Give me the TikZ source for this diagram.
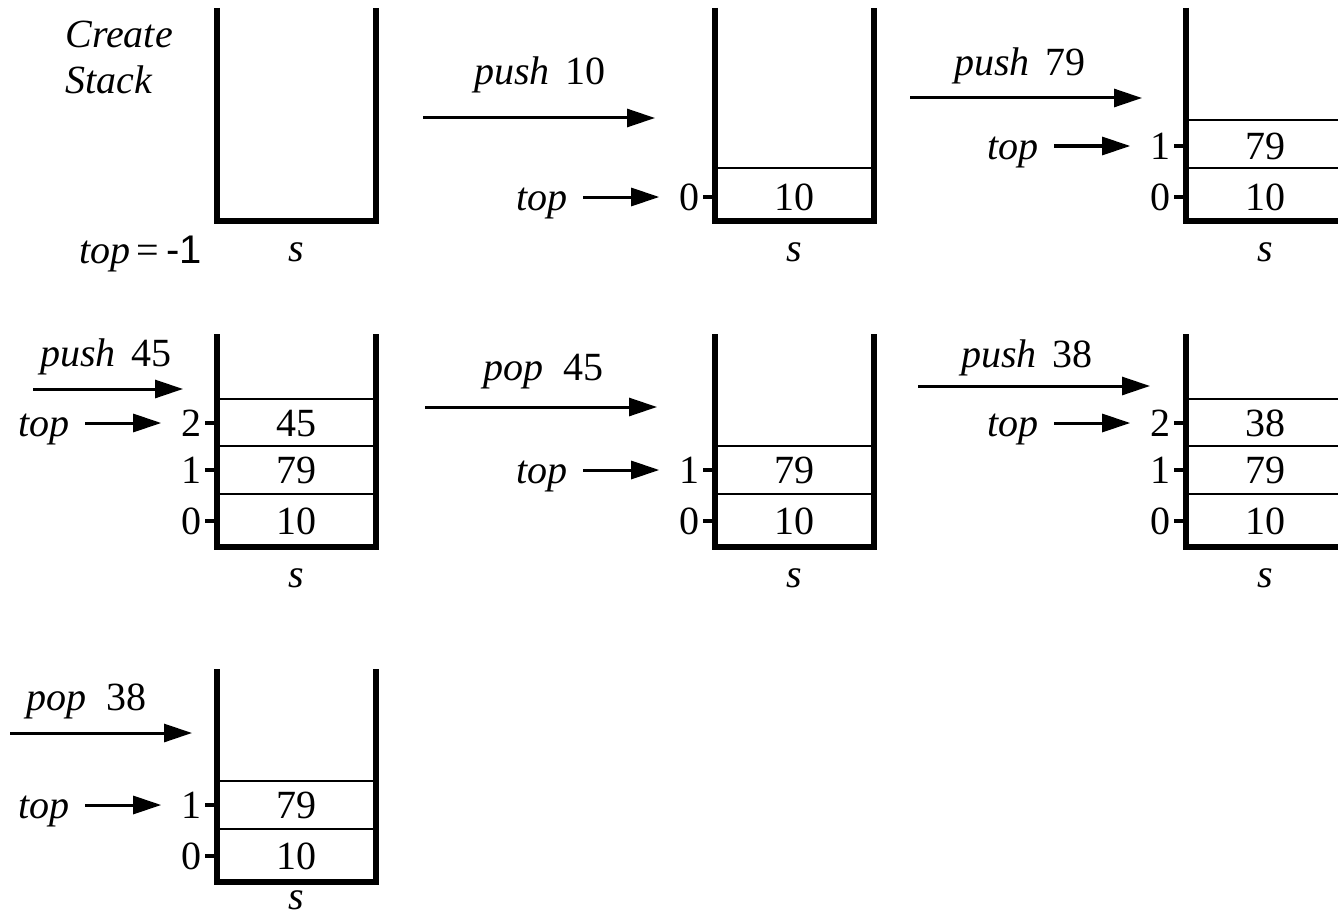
\documentclass[tikz,border=0pt]{standalone}
\usepackage{fontspec}
\setmainfont{Liberation Serif}
\setsansfont{Liberation Sans}
\usetikzlibrary{calc}
\usetikzlibrary{arrows.meta,positioning}

\begin{document}
\begin{tikzpicture}[x=0.5pt, y=-0.5pt,
	wall/.style = {line width=2.6pt, line join=miter},
	cell/.style = {line width=1.4pt},
	tick/.style = {line width=1.6pt},
	txt/.style = {inner sep=0pt, text height=13.6pt, text depth=0pt, font=\fontsize{20}{24}\selectfont},
	itx/.style = {txt, font=\fontsize{20}{24}\selectfont\itshape},
	idx/.style = {txt, anchor=east},
	op/.style = {line width=1.5pt, -{Triangle[length=14pt, width=9pt]}},
	ptr/.style = {op, shorten <=7.5pt, shorten >=10pt}
	]
	\useasboundingbox (0,0) rectangle (1338,920);
	\clip (0,0) rectangle (1338,920);

	% create stack
	\coordinate (b1) at (217,221);
	\draw[wall] ($(b1)+(0,-213)$) -- (b1) -- ($(b1)+(159,0)$) -- ($(b1)+(159,-213)$);
	\node[itx] (s1) at ($(b1)+(79.5,27)$) {s};
	\node[txt, anchor=east] (t1) at ($(b1)+(-15,29)$) {\textit{top}\,=\,{\sffamily -1}};
	\node[font=\fontsize{20}{23}\selectfont\itshape, align=left, inner sep=0pt, anchor=north west] (create) at (65,21) {Create\\Stack};

	% push 10
	\coordinate (p1a) at (423,118);
	\coordinate (p1b) at (655,118);
	\draw[op] (p1a) -- (p1b);
	\node[txt] (o1) at (540,71) {\textit{push}\hspace{0.4em}10};

	\coordinate (b2) at (715,221);
	\draw[wall] ($(b2)+(0,-213)$) -- (b2) -- ($(b2)+(159,0)$) -- ($(b2)+(159,-213)$);
	\draw[cell] ($(b2)+(0,-53)$) -- ($(b2)+(159,-53)$);
	\node[txt] (v2a) at ($(b2)+(79.5,-24)$) {10};
	\node[idx] (i2a) at ($(b2)+(-15,-24)$) {0};
	\draw[tick] ($(b2)+(-12,-24)$) -- ($(b2)+(0,-24)$);
	\node[itx] (s2) at ($(b2)+(79.5,27)$) {s};
	\node[itx, anchor=east] (t2) at ($(b2)+(-147,-24)$) {top};
	\draw[ptr] (t2.east) -- (i2a.west);

	% push 79
	\coordinate (p2a) at (910,98);
	\coordinate (p2b) at (1142,98);
	\draw[op] (p2a) -- (p2b);
	\node[txt] (o2) at (1020,62) {\textit{push}\hspace{0.4em}79};

	\coordinate (b3) at (1186,221);
	\draw[wall] ($(b3)+(0,-213)$) -- (b3) -- ($(b3)+(159,0)$) -- ($(b3)+(159,-213)$);
	\draw[cell] ($(b3)+(0,-53)$) -- ($(b3)+(159,-53)$);
	\draw[cell] ($(b3)+(0,-101)$) -- ($(b3)+(159,-101)$);
	\node[txt] (v3a) at ($(b3)+(79.5,-24)$) {10};
	\node[txt] (v3b) at ($(b3)+(79.5,-75)$) {79};
	\node[idx] (i3a) at ($(b3)+(-15,-24)$) {0};
	\node[idx] (i3b) at ($(b3)+(-15,-75)$) {1};
	\draw[tick] ($(b3)+(-12,-24)$) -- ($(b3)+(0,-24)$);
	\draw[tick] ($(b3)+(-12,-75)$) -- ($(b3)+(0,-75)$);
	\node[itx] (s3) at ($(b3)+(79.5,27)$) {s};
	\node[itx, anchor=east] (t3) at ($(b3)+(-147,-75)$) {top};
	\draw[ptr] (t3.east) -- (i3b.west);

	% push 45
	\coordinate (p3a) at (33,389);
	\coordinate (p3b) at (183,389);
	\draw[op] (p3a) -- (p3b);
	\node[txt] (o3) at (106,353) {\textit{push}\hspace{0.4em}45};

	\coordinate (b4) at (217,547);
	\draw[wall] ($(b4)+(0,-213)$) -- (b4) -- ($(b4)+(159,0)$) -- ($(b4)+(159,-213)$);
	\draw[cell] ($(b4)+(0,-53)$) -- ($(b4)+(159,-53)$);
	\draw[cell] ($(b4)+(0,-101)$) -- ($(b4)+(159,-101)$);
	\draw[cell] ($(b4)+(0,-148)$) -- ($(b4)+(159,-148)$);
	\node[txt] (v4a) at ($(b4)+(79.5,-26)$) {10};
	\node[txt] (v4b) at ($(b4)+(79.5,-77)$) {79};
	\node[txt] (v4c) at ($(b4)+(79.5,-124)$) {45};
	\node[idx] (i4a) at ($(b4)+(-15,-26)$) {0};
	\node[idx] (i4b) at ($(b4)+(-15,-77)$) {1};
	\node[idx] (i4c) at ($(b4)+(-15,-124)$) {2};
	\draw[tick] ($(b4)+(-12,-26)$) -- ($(b4)+(0,-26)$);
	\draw[tick] ($(b4)+(-12,-77)$) -- ($(b4)+(0,-77)$);
	\draw[tick] ($(b4)+(-12,-124)$) -- ($(b4)+(0,-124)$);
	\node[itx] (s4) at ($(b4)+(79.5,27)$) {s};
	\node[itx, anchor=east] (t4) at ($(b4)+(-147,-124)$) {top};
	\draw[ptr] (t4.east) -- (i4c.west);

	% pop 45
	\coordinate (p4a) at (425,407);
	\coordinate (p4b) at (657,407);
	\draw[op] (p4a) -- (p4b);
	\node[txt] (o4) at (543,367) {\textit{pop}\hspace{0.5em}45};

	\coordinate (b5) at (715,547);
	\draw[wall] ($(b5)+(0,-213)$) -- (b5) -- ($(b5)+(159,0)$) -- ($(b5)+(159,-213)$);
	\draw[cell] ($(b5)+(0,-53)$) -- ($(b5)+(159,-53)$);
	\draw[cell] ($(b5)+(0,-101)$) -- ($(b5)+(159,-101)$);
	\node[txt] (v5a) at ($(b5)+(79.5,-26)$) {10};
	\node[txt] (v5b) at ($(b5)+(79.5,-77)$) {79};
	\node[idx] (i5a) at ($(b5)+(-15,-26)$) {0};
	\node[idx] (i5b) at ($(b5)+(-15,-77)$) {1};
	\draw[tick] ($(b5)+(-12,-26)$) -- ($(b5)+(0,-26)$);
	\draw[tick] ($(b5)+(-12,-77)$) -- ($(b5)+(0,-77)$);
	\node[itx] (s5) at ($(b5)+(79.5,27)$) {s};
	\node[itx, anchor=east] (t5) at ($(b5)+(-147,-77)$) {top};
	\draw[ptr] (t5.east) -- (i5b.west);

	% push 38
	\coordinate (p5a) at (918,386);
	\coordinate (p5b) at (1150,386);
	\draw[op] (p5a) -- (p5b);
	\node[txt] (o5) at (1027,354) {\textit{push}\hspace{0.4em}38};

	\coordinate (b6) at (1186,547);
	\draw[wall] ($(b6)+(0,-213)$) -- (b6) -- ($(b6)+(159,0)$) -- ($(b6)+(159,-213)$);
	\draw[cell] ($(b6)+(0,-53)$) -- ($(b6)+(159,-53)$);
	\draw[cell] ($(b6)+(0,-101)$) -- ($(b6)+(159,-101)$);
	\draw[cell] ($(b6)+(0,-148)$) -- ($(b6)+(159,-148)$);
	\node[txt] (v6a) at ($(b6)+(79.5,-26)$) {10};
	\node[txt] (v6b) at ($(b6)+(79.5,-77)$) {79};
	\node[txt] (v6c) at ($(b6)+(79.5,-124)$) {38};
	\node[idx] (i6a) at ($(b6)+(-15,-26)$) {0};
	\node[idx] (i6b) at ($(b6)+(-15,-77)$) {1};
	\node[idx] (i6c) at ($(b6)+(-15,-124)$) {2};
	\draw[tick] ($(b6)+(-12,-26)$) -- ($(b6)+(0,-26)$);
	\draw[tick] ($(b6)+(-12,-77)$) -- ($(b6)+(0,-77)$);
	\draw[tick] ($(b6)+(-12,-124)$) -- ($(b6)+(0,-124)$);
	\node[itx] (s6) at ($(b6)+(79.5,27)$) {s};
	\node[itx, anchor=east] (t6) at ($(b6)+(-147,-124)$) {top};
	\draw[ptr] (t6.east) -- (i6c.west);

	% pop 38
	\coordinate (p6a) at (10,733);
	\coordinate (p6b) at (192,733);
	\draw[op] (p6a) -- (p6b);
	\node[txt] (o6) at (86,697) {\textit{pop}\hspace{0.5em}38};

	\coordinate (b7) at (217,882);
	\draw[wall] ($(b7)+(0,-213)$) -- (b7) -- ($(b7)+(159,0)$) -- ($(b7)+(159,-213)$);
	\draw[cell] ($(b7)+(0,-53)$) -- ($(b7)+(159,-53)$);
	\draw[cell] ($(b7)+(0,-101)$) -- ($(b7)+(159,-101)$);
	\node[txt] (v7a) at ($(b7)+(79.5,-26)$) {10};
	\node[txt] (v7b) at ($(b7)+(79.5,-77)$) {79};
	\node[idx] (i7a) at ($(b7)+(-15,-26)$) {0};
	\node[idx] (i7b) at ($(b7)+(-15,-77)$) {1};
	\draw[tick] ($(b7)+(-12,-26)$) -- ($(b7)+(0,-26)$);
	\draw[tick] ($(b7)+(-12,-77)$) -- ($(b7)+(0,-77)$);
	\node[itx] (s7) at ($(b7)+(79.5,14)$) {s};
	\node[itx, anchor=east] (t7) at ($(b7)+(-147,-77)$) {top};
	\draw[ptr] (t7.east) -- (i7b.west);
\end{tikzpicture}
\end{document}
